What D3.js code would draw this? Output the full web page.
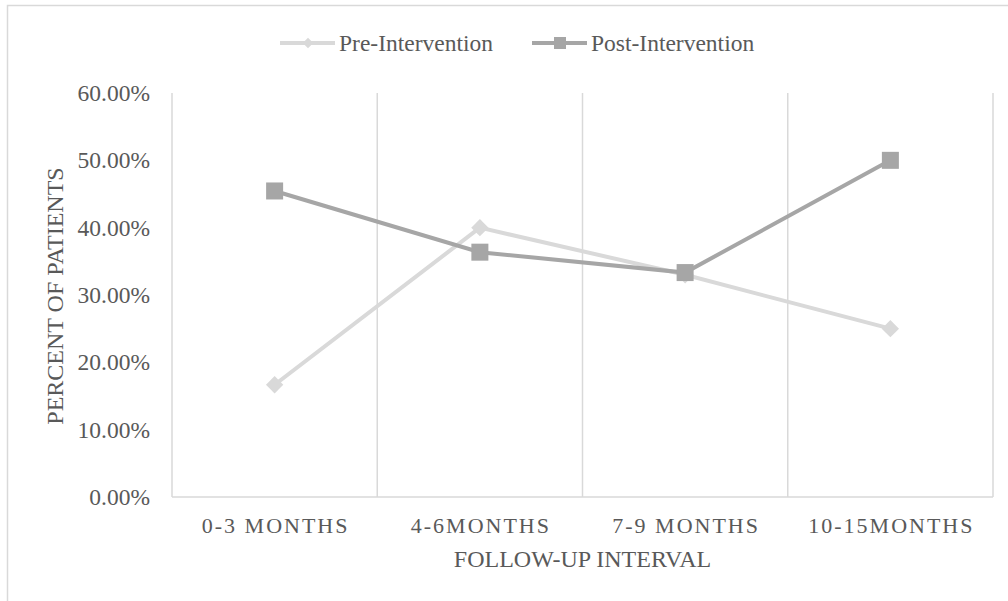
<!DOCTYPE html>
<html><head><meta charset="utf-8">
<script src="https://cdn.jsdelivr.net/npm/d3@7"></script>
<style>body{margin:0;background:#fff;} svg{display:block;font-family:"Liberation Serif","Times New Roman",serif;}</style>
</head><body>
<svg id="c" width="1008" height="601"></svg>
<script>
const categories = ["0-3 MONTHS","4-6MONTHS","7-9 MONTHS","10-15MONTHS"];
const preValues = [0.1667, 0.40, 0.33, 0.25];
const postValues = [0.4545, 0.3636, 0.3333, 0.50];
const yTicks = [0,0.1,0.2,0.3,0.4,0.5,0.6];
const seriesNames = ["Pre-Intervention","Post-Intervention"];

const svg = d3.select("#c");
const txt = "#595959";
svg.append("rect").attr("x",7.5).attr("y",5.5).attr("width",1010).attr("height",610)
  .attr("fill","none").attr("stroke","#d9d9d9").attr("stroke-width",1.5);

const x0 = 172, x1 = 993, yTop = 93, yBot = 497;
const x = d3.scaleBand().domain(categories).range([x0,x1]);
const y = d3.scaleLinear().domain([0,0.6]).range([yBot,yTop]);

// vertical gridlines at category boundaries
const bounds = categories.map(c=>x(c)).concat([x1]);
svg.append("g").selectAll("line").data(bounds).join("line")
  .attr("x1",d=>d).attr("x2",d=>d).attr("y1",yTop).attr("y2",yBot)
  .attr("stroke","#d9d9d9").attr("stroke-width",1.5);
svg.append("line").attr("x1",x0).attr("x2",x1).attr("y1",yBot).attr("y2",yBot)
  .attr("stroke","#d9d9d9").attr("stroke-width",1.5);

// y axis labels
const yAxis = d3.axisLeft(y).tickValues(yTicks).tickFormat(d=>(d*100).toFixed(2)+"%").tickSize(0).tickPadding(22);
const gy = svg.append("g").attr("transform",`translate(${x0},0)`).call(yAxis);
gy.select(".domain").remove();
gy.selectAll("text").attr("fill",txt).style("font-size","23.5px").style("font-family","Liberation Serif");

// x axis labels
const xAxis = d3.axisBottom(x).tickSize(0).tickPadding(20);
const gx = svg.append("g").attr("transform",`translate(0,${yBot})`).call(xAxis);
gx.select(".domain").remove();
gx.selectAll("text").attr("fill",txt).style("font-size","22px").style("letter-spacing","2px").attr("dx","1px").style("font-family","Liberation Serif");

svg.append("text").attr("x",(x0+x1)/2).attr("y",567).attr("text-anchor","middle")
  .attr("fill",txt).style("font-size","24px").text("FOLLOW-UP INTERVAL");
svg.append("text").attr("transform",`translate(63,${(yTop+yBot)/2 + 1}) rotate(-90)`).attr("text-anchor","middle")
  .attr("fill",txt).style("font-size","24px").text("PERCENT OF PATIENTS");

const cx = d => x(d) + x.bandwidth()/2;
const line = d3.line().x((d,i)=>cx(categories[i])).y(d=>y(d));
const preCol = "#d9d9d9", postCol = "#a6a6a6";

svg.append("path").datum(preValues).attr("d",line).attr("fill","none").attr("stroke",preCol).attr("stroke-width",4);
svg.append("path").datum(postValues).attr("d",line).attr("fill","none").attr("stroke",postCol).attr("stroke-width",4);

svg.append("g").selectAll("path").data(preValues).join("path")
  .attr("d",d3.symbol().type(d3.symbolSquare).size(150))
  .attr("transform",(d,i)=>`translate(${cx(categories[i])},${y(d)}) rotate(45)`)
  .attr("fill",preCol);
svg.append("g").selectAll("rect").data(postValues).join("rect")
  .attr("x",(d,i)=>cx(categories[i])-8.5).attr("y",d=>y(d)-8.5).attr("width",17).attr("height",17)
  .attr("fill",postCol);

// legend
const leg = [{name:seriesNames[0],col:preCol,x:280,sym:"d"},{name:seriesNames[1],col:postCol,x:532,sym:"s"}];
const lg = svg.append("g");
leg.forEach(l=>{
  lg.append("line").attr("x1",l.x).attr("x2",l.x+55).attr("y1",43).attr("y2",43).attr("stroke",l.col).attr("stroke-width",4);
  if(l.sym==="d"){
    lg.append("path").attr("d",d3.symbol().type(d3.symbolSquare).size(56)).attr("transform",`translate(${l.x+28},43) rotate(45)`).attr("fill",l.col);
  } else {
    lg.append("rect").attr("x",l.x+22).attr("y",37).attr("width",12).attr("height",12).attr("fill",l.col);
  }
  lg.append("text").attr("x",l.x+59).attr("y",51).attr("fill",txt).style("font-size","23.5px").text(l.name);
});
</script>
</body></html>
